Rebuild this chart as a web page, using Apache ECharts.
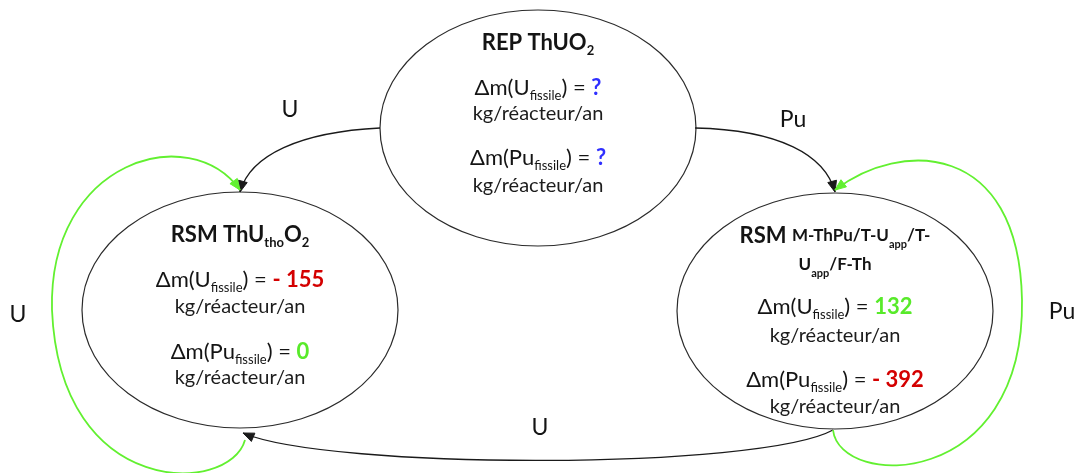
<!DOCTYPE html>
<html><head><meta charset="utf-8">
<script src="https://cdn.jsdelivr.net/npm/echarts@6/dist/echarts.min.js"></script>
<style>html,body{margin:0;padding:0;background:#fff}#c{width:1078px;height:473px}</style>
</head><body><div id="c"></div>
<script>
// ---------- DATA ----------
const reactors = ['REP ThUO2', 'RSM ThUthoO2', 'RSM M-ThPu/T-Uapp/T-Uapp/F-Th'];
const reactorTitleMarkup = [
  ['{t|REP ThUO}{ts|2}'],
  ['{t|RSM ThU}{ts|tho}{t|O}{ts|2}'],
  ['{t|RSM }{tm|M-ThPu/T-U}{tms|app}{tm|/T-}', '{tm|U}{tms|app}{tm|/F-Th}']
];
const deltaUFissile = ['?', '- 155', '132'];
const deltaPuFissile = ['?', '0', '- 392'];
const unitLabel = 'kg/réacteur/an';
const flowFrom = [0, 0, 2, 1, 2];
const flowTo = [1, 2, 1, 1, 2];
const flowMaterial = ['U', 'Pu', 'U', 'U', 'Pu'];
const flowSelfLoop = [false, false, false, true, true];

// ---------- LAYOUT (axis units = pixels) ----------
const nodeCenter = [[538, 128], [240, 310], [835, 311]];
const nodeRadius = [158, 118];
const nodeLineOffsets = [
  [-85, -40, -14, 30, 58],
  [-75, -30, -3, 42, 68],
  [-75, -46, -4, 25, 69, 96]
];
const flowPaths = [
  [[380,128],[300,132],[250,155],[240,192]],
  [[695,128],[780,130],[825,155],[835,192]],
  [[833,430],[760,470],[330,470],[243,433]],
  [[245,440],[230,495],[60,500],[52,310],[48,160],[190,120],[240,190]],
  [[833,430],[840,490],[1025,490],[1022,300],[1019,140],[900,140],[835,190]]
];
const flowLabelPos = [[290,110],[793,120],[540,428],[18,315],[1062,312]];

// ---------- STYLE ----------
const F = 'Lato, "DejaVu Sans", sans-serif';
const TXT = '#141414';
const BLUE = '#2f2fff', RED = '#d40000', GREEN = '#58ea2a';
const LINE_GREEN = '#62f030';
const rich = {
  t:   {fontFamily:F, fontSize:22, fontWeight:'bold', lineHeight:28, fill:TXT},
  ts:  {fontFamily:F, fontSize:13, fontWeight:'bold', lineHeight:10, verticalAlign:'bottom', fill:TXT},
  tm:  {fontFamily:F, fontSize:17, fontWeight:'bold', lineHeight:28, fill:TXT},
  tms: {fontFamily:F, fontSize:11, fontWeight:'bold', lineHeight:10, verticalAlign:'bottom', fill:TXT},
  d:   {fontFamily:F, fontSize:22, lineHeight:28, fill:TXT},
  s:   {fontFamily:F, fontSize:13, lineHeight:10, verticalAlign:'bottom', fill:TXT},
  vb:  {fontFamily:F, fontSize:22, fontWeight:'bold', lineHeight:28, fill:BLUE},
  vr:  {fontFamily:F, fontSize:22, fontWeight:'bold', lineHeight:28, fill:RED},
  vg:  {fontFamily:F, fontSize:22, fontWeight:'bold', lineHeight:28, fill:GREEN}
};
function valueTag(v) {
  if (v === '?') return 'vb';
  const n = parseFloat(v.replace(/\s/g, ''));
  return n < 0 ? 'vr' : 'vg';
}
function deltaLine(el, v) {
  return '{d|Δm(' + el + '}{s|fissile}{d|) = }{' + valueTag(v) + '|' + v + '}';
}

const chart = echarts.init(document.getElementById('c'), null, {renderer: 'canvas'});
chart.setOption({
  animation: false,
  grid: {left: 0, right: 0, top: 0, bottom: 0},
  xAxis: {type: 'value', min: 0, max: 1078, show: false},
  yAxis: {type: 'value', min: 0, max: 473, inverse: true, show: false},
  series: [
    {
      type: 'custom', name: 'reactors', clip: false, z: 2,
      data: reactors.map((n, i) => ({name: n, value: [i, 0]})),
      renderItem(params, api) {
        const i = params.dataIndex;
        const c = api.coord(nodeCenter[i]);
        const r = api.size(nodeRadius);
        const offs = nodeLineOffsets[i];
        const lines = reactorTitleMarkup[i].concat([
          deltaLine('U', deltaUFissile[i]),
          '{u|' + unitLabel + '}',
          deltaLine('Pu', deltaPuFissile[i]),
          '{u|' + unitLabel + '}'
        ]);
        const children = [{
          type: 'ellipse',
          shape: {cx: c[0], cy: c[1], rx: Math.abs(r[0]), ry: Math.abs(r[1])},
          style: {fill: '#fff', stroke: '#2a2a2a', lineWidth: 1.2}
        }];
        lines.forEach((txt, k) => {
          children.push({
            type: 'text', x: c[0], y: c[1] + offs[k],
            style: {
              text: txt, align: 'center', verticalAlign: 'middle',
              rich: Object.assign({}, rich, {u: {fontFamily: F, fontSize: 20, lineHeight: 24, fill: '#1c1c1c'}})
            }
          });
        });
        return {type: 'group', children};
      }
    },
    {
      type: 'custom', name: 'flows', clip: false, z: 3,
      data: flowMaterial.map((m, i) => ({name: m, value: [flowFrom[i], flowTo[i]]})),
      renderItem(params, api) {
        const i = params.dataIndex;
        const pts = flowPaths[i].map(p => api.coord(p));
        const color = flowSelfLoop[i] ? LINE_GREEN : '#1a1a1a';
        const lw = flowSelfLoop[i] ? 1.8 : 1.3;
        const children = [];
        for (let k = 0; k + 3 < pts.length; k += 3) {
          children.push({
            type: 'bezierCurve',
            shape: {x1: pts[k][0], y1: pts[k][1], cpx1: pts[k+1][0], cpy1: pts[k+1][1],
                    cpx2: pts[k+2][0], cpy2: pts[k+2][1], x2: pts[k+3][0], y2: pts[k+3][1]},
            style: {stroke: color, lineWidth: lw, fill: null}
          });
        }
        const tip = pts[pts.length - 1], prev = pts[pts.length - 2];
        let dx = tip[0] - prev[0], dy = tip[1] - prev[1];
        const len = Math.hypot(dx, dy); dx /= len; dy /= len;
        const L = 11, W = 4.5;
        const bx = tip[0] - dx * L, by = tip[1] - dy * L;
        children.push({
          type: 'polygon',
          shape: {points: [tip, [bx - dy * W, by + dx * W], [bx + dy * W, by - dx * W]]},
          style: {fill: color, stroke: color, lineWidth: 1}
        });
        const lp = api.coord(flowLabelPos[i]);
        children.push({
          type: 'text', x: lp[0], y: lp[1],
          style: {text: flowMaterial[i], align: 'center', verticalAlign: 'middle',
                  fontFamily: F, fontSize: 23, fill: TXT}
        });
        return {type: 'group', children};
      }
    }
  ]
});
</script>
</body></html>
